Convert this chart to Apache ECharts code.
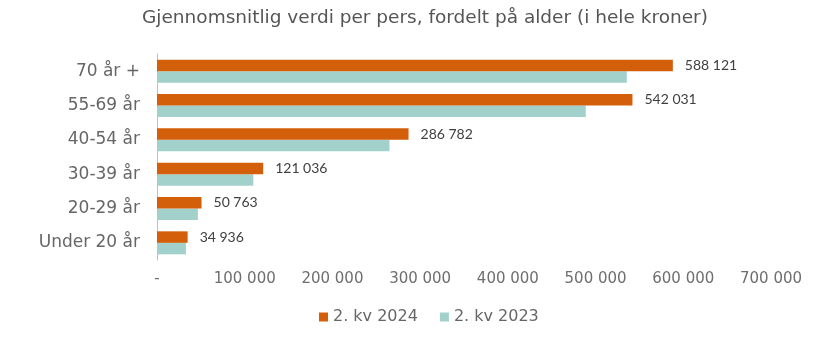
<!DOCTYPE html>
<html>
<head>
<meta charset="utf-8">
<script src="https://cdn.jsdelivr.net/npm/echarts@6/dist/echarts.min.js"></script>
<style>
  html, body { margin: 0; padding: 0; background: #ffffff; }
  #chart { width: 819px; height: 337px; }
</style>
</head>
<body>
<div id="chart"></div>
<script>
// Age groups, bottom to top on the category axis
const categories = ['Under 20 år', '20-29 år', '30-39 år', '40-54 år', '55-69 år', '70 år +'];
const values2024 = [34936, 50763, 121036, 286782, 542031, 588121];
const values2023 = [33000, 46600, 109800, 265000, 488800, 535600];
const seriesNames = ['2. kv 2024', '2. kv 2023'];
const xTicks = { min: 0, max: 700000, interval: 100000 };

const textFont = '"DejaVu Sans", "Open Sans", sans-serif';
const valueFont = 'Lato, "Open Sans", sans-serif';

// Thousands grouped with a space; zero shown as a dash
function fmt(v) {
  if (v === 0) return '-';
  return String(Math.round(v)).replace(/\B(?=(\d{3})+(?!\d))/g, ' ');
}

const chart = echarts.init(document.getElementById('chart'));
chart.setOption({
  animation: false,
  title: {
    text: 'Gjennomsnitlig verdi per pers, fordelt på alder (i hele kroner)',
    left: 142,
    top: 9,
    padding: 0,
    textStyle: { fontFamily: textFont, fontSize: 18.5, fontWeight: 'normal', color: '#555555' }
  },
  legend: {
    left: 319,
    top: 309,
    padding: 0,
    itemWidth: 9,
    itemHeight: 9,
    itemGap: 22,
    icon: 'rect',
    textStyle: { fontFamily: textFont, fontSize: 16, fontWeight: 'normal', color: '#666666' },
    data: seriesNames
  },
  grid: { left: 157, right: 48, top: 54, bottom: 77, containLabel: false },
  xAxis: {
    type: 'value',
    min: xTicks.min,
    max: xTicks.max,
    interval: xTicks.interval,
    axisLine: { show: false },
    axisTick: { show: false },
    splitLine: { show: false },
    axisLabel: { formatter: fmt, fontFamily: textFont, fontSize: 15, fontWeight: 'normal', color: '#6e6e6e', margin: 12 }
  },
  yAxis: {
    type: 'category',
    data: categories,
    axisLine: { show: true, lineStyle: { color: '#bfbfbf', width: 1 } },
    axisTick: { show: false },
    axisLabel: { fontFamily: textFont, fontSize: 17, fontWeight: 'normal', color: '#666666', margin: 17 }
  },
  series: [
    {
      name: seriesNames[0],
      type: 'bar',
      data: values2024,
      itemStyle: { color: '#D45F0B' },
      barGap: '0%',
      barCategoryGap: '33%',
      label: {
        show: true,
        position: 'right',
        distance: 12,
        formatter: p => fmt(p.value),
        fontFamily: valueFont, fontSize: 14, color: '#404040'
      },
      z: 3
    },
    {
      name: seriesNames[1],
      type: 'bar',
      data: values2023,
      itemStyle: { color: '#A2D1CB' },
      barGap: '0%',
      barCategoryGap: '33%'
    }
  ]
});
</script>
</body>
</html>
